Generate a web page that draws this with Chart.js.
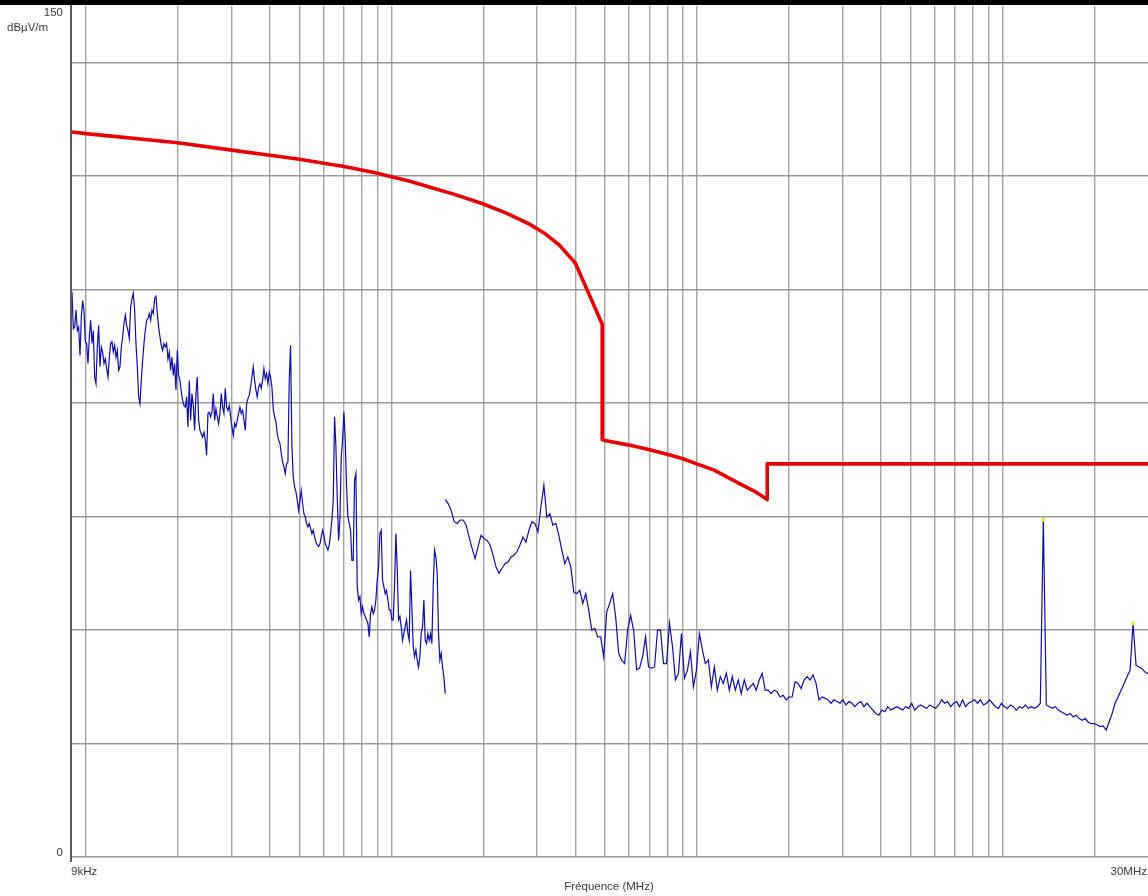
<!DOCTYPE html>
<html>
<head>
<meta charset="utf-8">
<script src="https://cdn.jsdelivr.net/npm/chart.js@4.4.1/dist/chart.umd.min.js"></script>
<style>
  html, body { margin: 0; padding: 0; background: #fff; overflow: hidden; }
  #wrap { position: relative; width: 1148px; height: 896px; overflow: hidden; background: #fff; }
  #wrap canvas { position: absolute; left: 0; top: 0; }
</style>
</head>
<body>
<div id="wrap"><canvas id="emi" width="1152" height="896"></canvas></div>
<script>
// Axis texts
const yUnit = 'dBµV/m';
const yTopLabel = '150';
const yBottomLabel = '0';
const xStartLabel = '9kHz';
const xEndLabel = '30MHz';
const xTitle = 'Fréquence (MHz)';

// Grid positions
const yGridLevels = [0, 20, 40, 60, 80, 100, 120, 140];
const gridDecades = [1e4, 1e5, 1e6, 1e7];
const gridSteps = [1, 2, 3, 4, 5, 6, 7, 8, 9];

// Limit line (Hz, dBµV/m)
const limitFreqs = [9e3, 10e3, 20e3, 30e3, 40e3, 50e3, 60e3, 70e3, 80e3, 90e3, 100e3,
  115e3, 133e3, 161e3, 200e3, 238e3, 282e3, 316e3, 354e3, 400e3, 490e3, 490e3,
  500e3, 600e3, 700e3, 800e3, 900e3, 1e6, 1.14e6, 1.37e6, 1.54e6, 1.7e6, 1.7e6, 30e6];
const limitLevels = [127.8, 127.5, 125.9, 124.6, 123.7, 123.0, 122.3, 121.7, 121.1, 120.5, 119.9,
  119.1, 118.1, 116.8, 115.1, 113.5, 111.6, 110.0, 107.9, 104.7, 93.9, 73.6,
  73.4, 72.6, 71.8, 71.0, 70.2, 69.3, 68.2, 65.9, 64.5, 63.0, 69.3, 69.3];

// Band A sweep: 9 kHz .. 150 kHz, log-spaced bins
const bandAStart = 9e3;
const bandAStop = 150e3;
const bandALevels = [
  99.6, 93.1, 93.4, 96.4, 92.8, 93.4, 88.4, 95.2, 98.1, 96.1,
  90.8, 90.5, 87.0, 91.7, 94.6, 90.5, 92.8, 84.6, 83.4, 89.9,
  93.7, 86.4, 89.9, 89.0, 87.0, 87.8, 86.1, 84.6, 88.1, 90.5,
  90.8, 89.0, 90.2, 88.1, 89.3, 85.8, 86.4, 89.9, 91.7, 94.0,
  95.5, 93.7, 92.8, 91.4, 96.9, 98.4, 99.4, 96.4, 90.5, 86.4,
  81.1, 79.9, 84.0, 87.5, 90.5, 92.8, 94.6, 94.9, 95.8, 94.6,
  96.4, 95.8, 98.4, 98.8, 95.8, 93.4, 91.7, 90.2, 89.3, 90.5,
  89.9, 90.5, 87.8, 89.0, 85.8, 88.1, 84.9, 87.0, 82.3, 89.3,
  84.9, 84.0, 82.0, 80.5, 79.6, 79.3, 81.1, 75.8, 84.0, 77.0,
  81.7, 79.6, 75.2, 81.7, 84.6, 77.0, 75.2, 74.6, 74.0, 74.9,
  73.5, 70.8, 78.2, 78.4, 77.6, 78.4, 81.7, 77.0, 79.0, 77.6,
  76.4, 78.2, 81.7, 79.3, 78.2, 82.6, 79.3, 78.7, 79.6, 77.6,
  75.8, 74.3, 76.4, 75.8, 77.0, 78.2, 79.3, 78.2, 78.7, 77.0,
  75.2, 79.9, 80.8, 81.4, 82.8, 84.6, 86.4, 84.0, 82.3, 81.1,
  82.8, 83.4, 82.6, 84.0, 86.1, 84.3, 85.2, 83.4, 85.5, 84.6,
  82.8, 79.0, 77.6, 76.7, 74.6, 73.5, 72.9, 71.1, 69.6, 68.8,
  67.6, 69.3, 69.6, 84.0, 90.2, 72.3, 67.0, 65.2, 64.4, 62.9,
  61.1, 62.9, 64.6, 62.3, 60.5, 60.0, 58.8, 58.2, 58.8, 57.9,
  57.0, 57.6, 56.4, 55.5, 55.0, 54.7, 55.2, 56.4, 57.6, 56.7,
  55.2, 54.7, 54.1, 55.0, 57.0, 59.4, 62.9, 77.6, 72.3, 63.5,
  55.8, 59.4, 70.5, 73.5, 78.4, 73.5, 65.2, 60.0, 58.8, 57.6,
  52.3, 52.3, 66.4, 67.6, 47.6, 45.3, 45.9, 42.9, 44.1, 42.9,
  42.4, 41.8, 41.2, 38.8, 42.9, 44.1, 42.9, 43.5, 45.3, 48.8,
  51.1, 57.0, 57.6, 48.8, 47.6, 46.4, 47.0, 45.3, 43.5, 43.5,
  41.8, 41.8, 47.6, 57.0, 51.1, 41.8, 42.4, 40.6, 38.2, 39.4,
  40.6, 41.8, 39.4, 38.2, 50.5, 44.1, 37.1, 35.3, 36.5, 34.7,
  33.5, 35.3, 39.4, 40.6, 45.3, 38.2, 37.6, 39.4, 38.2, 39.4,
  37.6, 47.6, 54.1, 52.9, 50.0, 39.4, 34.7, 35.9, 33.5, 31.8,
  28.8
];

// Band B sweep: 150 kHz .. 30 MHz, log-spaced bins
const bandBStart = 150e3;
const bandBStop = 30e6;
const bandBLevels = [
  63.0, 62.3, 61.1, 59.1, 58.8, 59.4, 59.4, 58.5, 56.4, 54.4,
  52.6, 54.7, 56.7, 56.1, 55.8, 55.0, 53.2, 51.1, 50.0, 50.9,
  51.7, 52.0, 52.9, 53.2, 53.8, 55.0, 56.4, 55.5, 57.6, 59.1,
  58.8, 57.3, 61.7, 65.5, 59.9, 60.5, 58.5, 58.8, 56.7, 54.1,
  51.7, 52.9, 51.1, 46.7, 46.4, 47.0, 44.7, 46.4, 43.5, 40.0,
  40.3, 38.8, 38.8, 35.3, 43.2, 44.7, 46.4, 42.3, 35.9, 34.7,
  34.1, 40.0, 42.6, 40.0, 33.0, 33.3, 35.3, 38.8, 33.5, 33.3,
  33.5, 40.0, 40.0, 34.1, 34.1, 41.2, 37.1, 31.2, 32.4, 39.4,
  31.5, 32.9, 36.2, 30.0, 32.9, 39.4, 36.5, 34.1, 34.7, 30.0,
  33.5, 29.4, 31.8, 30.6, 32.4, 29.4, 31.8, 29.4, 31.2, 28.8,
  31.2, 29.4, 30.0, 30.6, 29.4, 31.2, 32.4, 29.4, 29.4, 28.8,
  29.4, 29.1, 28.2, 28.5, 27.7, 28.2, 28.2, 30.9, 30.6, 29.7,
  31.2, 31.8, 31.2, 32.1, 30.6, 27.7, 28.2, 28.0, 27.7, 27.1,
  27.7, 27.4, 27.1, 27.7, 26.8, 27.4, 27.1, 26.5, 27.1, 27.4,
  26.5, 27.1, 26.5, 25.9, 25.3, 25.0, 25.9, 25.6, 26.5, 25.9,
  26.2, 26.5, 26.2, 25.9, 26.5, 26.2, 27.1, 25.9, 26.5, 26.8,
  26.5, 26.2, 26.8, 26.5, 26.2, 26.8, 27.7, 27.1, 27.4, 26.5,
  27.1, 27.4, 26.5, 27.7, 26.5, 27.1, 27.4, 27.7, 27.1, 27.7,
  26.8, 27.1, 27.7, 27.1, 26.5, 26.2, 27.1, 26.5, 26.2, 26.8,
  26.5, 25.9, 26.5, 26.2, 26.8, 26.2, 26.5, 26.2, 26.5, 27.1,
  59.5, 26.8, 26.5, 26.2, 26.5, 25.9, 25.6, 25.3, 25.0, 25.3,
  24.7, 25.0, 24.4, 24.1, 24.4, 23.8, 23.5, 23.5, 23.3, 23.0,
  23.1, 22.4, 23.8, 25.3, 27.1, 28.2, 29.4, 30.6, 31.8, 32.9,
  41.2, 33.8, 33.5, 33.2, 32.6, 32.3
];

// Band B bins carrying a peak marker
const markedBins = [200, 230];

// Frequency of bin i in a log-spaced sweep
function sweepFreq(start, stop, count, i) {
  return start * Math.pow(stop / start, i / (count - 1));
}
function sweepPoints(start, stop, levels) {
  return levels.map((v, i) => ({ x: sweepFreq(start, stop, levels.length, i), y: v }));
}

const bandAPoints = sweepPoints(bandAStart, bandAStop, bandALevels);
const bandBPoints = sweepPoints(bandBStart, bandBStop, bandBLevels);
const markerPoints = markedBins.map(i => bandBPoints[i]);
const limitPoints = limitFreqs.map((f, i) => ({ x: f, y: limitLevels[i] }));
const xGridFreqs = [];
gridDecades.forEach(d => gridSteps.forEach(s => {
  const f = d * s;
  if (f > bandAStart && f < bandBStop) xGridFreqs.push(f);
}));

const textColor = '#3a3a3a';
const textFont = '11.5px "Liberation Sans", Arial, sans-serif';

// Frame: top bar, y axis line and axis texts
const framePlugin = {
  id: 'frame',
  afterDraw(chart) {
    const { ctx, chartArea: a, scales: { x, y } } = chart;
    ctx.save();
    ctx.fillStyle = '#000';
    ctx.fillRect(0, 0, chart.width, 5);
    ctx.fillStyle = '#5a5a5a';
    ctx.fillRect(a.left - 2, 5, 2, a.bottom + 5 - 5);

    ctx.fillStyle = textColor;
    ctx.font = textFont;
    ctx.textBaseline = 'middle';
    ctx.textAlign = 'right';
    ctx.fillText(yTopLabel, a.left - 9, y.getPixelForValue(150) + 7);
    ctx.fillText(yBottomLabel, a.left - 9, y.getPixelForValue(0) - 4);
    ctx.textAlign = 'left';
    ctx.fillText(yUnit, 7, y.getPixelForValue(150) + 22);
    ctx.fillText(xStartLabel, x.getPixelForValue(bandAStart) - 1, a.bottom + 15);
    ctx.textAlign = 'right';
    ctx.fillText(xEndLabel, 1147, a.bottom + 15);
    ctx.textAlign = 'center';
    ctx.fillText(xTitle, 609, a.bottom + 30);
    ctx.restore();
  }
};

const traceColor = 'rgb(14, 14, 170)';
const gridColor = '#a4a4a4';

new Chart(document.getElementById('emi'), {
  type: 'scatter',
  data: {
    datasets: [
      { label: 'marks', data: markerPoints, showLine: false, pointRadius: 2.2,
        pointBackgroundColor: 'rgb(235, 230, 80)', pointBorderWidth: 0, order: 0 },
      { label: 'limit', data: limitPoints, showLine: true, borderColor: 'rgb(232, 0, 0)',
        borderWidth: 3.6, pointRadius: 0, tension: 0, borderJoinStyle: 'round', order: 1 },
      { label: 'bandA', data: bandAPoints, showLine: true, borderColor: traceColor,
        borderWidth: 1.2, pointRadius: 0, tension: 0, order: 2 },
      { label: 'bandB', data: bandBPoints, showLine: true, borderColor: traceColor,
        borderWidth: 1.2, pointRadius: 0, tension: 0, order: 2 }
    ]
  },
  options: {
    responsive: false,
    devicePixelRatio: 1,
    animation: false,
    events: [],
    layout: { padding: { left: 72, top: 6, right: 1, bottom: 39 } },
    plugins: { legend: { display: false }, tooltip: { enabled: false }, title: { display: false } },
    scales: {
      x: {
        type: 'logarithmic', min: bandAStart, max: bandBStop,
        afterBuildTicks: s => { s.ticks = xGridFreqs.map(v => ({ value: v })); },
        ticks: { display: false },
        grid: { color: gridColor, lineWidth: 1.4, drawTicks: false },
        border: { display: false }
      },
      y: {
        type: 'linear', min: 0, max: 150,
        afterBuildTicks: s => { s.ticks = yGridLevels.map(v => ({ value: v })); },
        ticks: { display: false },
        grid: { color: '#989898', lineWidth: 1.4, drawTicks: false },
        border: { display: false }
      }
    }
  },
  plugins: [framePlugin]
});
</script>
</body>
</html>
